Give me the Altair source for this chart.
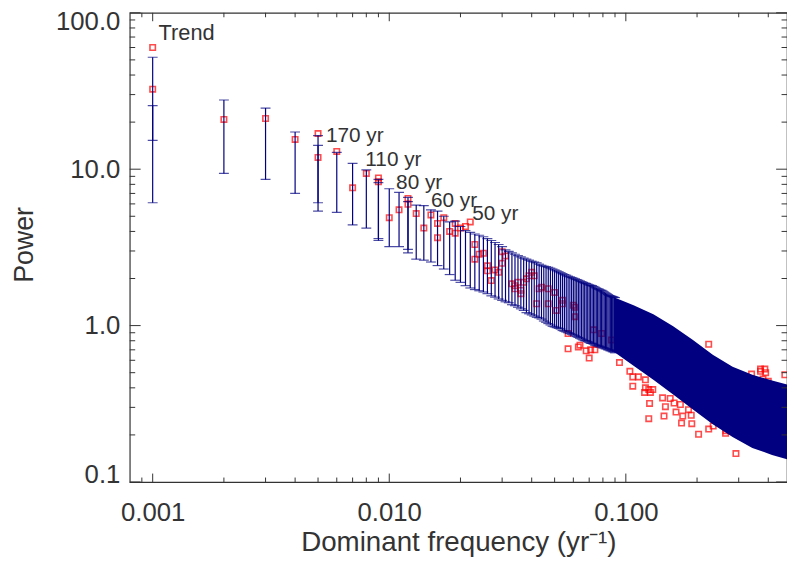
import altair as alt
import pandas as pd

# ---------------- values ----------------
# error bars, one every 0.001 yr^-1 (k = 1..90): upper and lower limits
bar_k = list(range(1, 91))
bar_hi = [52.0, 27.7, 24.6, 17.3, 16.4, 12.8, 10.9, 9.9, 8.6, 7.5,
          7.1, 6.6, 5.9, 5.85, 5.5, 5.4, 5.0, 4.6, 4.65, 4.3,
          4.05, 3.95, 3.85, 3.78, 3.7, 3.6, 3.5, 3.4, 3.3, 3.2,
          3.05, 2.98, 2.92, 2.86, 2.80, 2.75, 2.70, 2.66, 2.62, 2.58,
          2.55, 2.52, 2.47, 2.43, 2.40, 2.38, 2.36, 2.33, 2.30, 2.27,
          2.24, 2.21, 2.18, 2.15, 2.12, 2.10, 2.07, 2.05, 2.03, 2.01,
          1.99, 1.97, 1.95, 1.93, 1.91, 1.89, 1.87, 1.86, 1.84, 1.82,
          1.81, 1.80, 1.78, 1.76, 1.74, 1.72, 1.71, 1.69, 1.68, 1.66,
          1.64, 1.62, 1.60, 1.58, 1.56, 1.55, 1.54, 1.53, 1.52, 1.51]
bar_lo = [6.1, 9.4, 8.6, 7.0, 6.1, 5.3, 4.4, 4.2, 3.6, 3.2,
          3.2, 3.07, 2.66, 2.62, 2.55, 2.42, 2.3, 2.12, 1.95, 1.89,
          1.80, 1.74, 1.70, 1.67, 1.64, 1.60, 1.55, 1.52, 1.48, 1.45,
          1.42, 1.40, 1.36, 1.34, 1.31, 1.28, 1.25, 1.21, 1.19, 1.17,
          1.15, 1.13, 1.12, 1.10, 1.07, 1.05, 1.03, 1.01, 0.99, 0.98,
          0.97, 0.96, 0.95, 0.93, 0.92, 0.91, 0.90, 0.89, 0.88, 0.87,
          0.86, 0.85, 0.84, 0.83, 0.82, 0.81, 0.80, 0.80, 0.79, 0.78,
          0.77, 0.77, 0.76, 0.75, 0.75, 0.74, 0.74, 0.73, 0.73, 0.72,
          0.72, 0.71, 0.71, 0.70, 0.70, 0.69, 0.69, 0.68, 0.68, 0.67]
# second, overlapping error bars at a few frequencies
bar2_k = [1, 5, 9, 12]
bar2_hi = [25.5, 14.2, 8.2, 6.2]
bar2_lo = [15.3, 5.4, 3.5, 2.92]
# dense high-frequency error bars (merged envelope)
band_f = [0.089, 0.1078, 0.1307, 0.1585, 0.1922, 0.233, 0.2826, 0.3426, 0.415, 0.48]
band_hi = [1.52, 1.35, 1.18, 0.99, 0.81, 0.65, 0.545, 0.485, 0.445, 0.42]
band_lo = [0.68, 0.553, 0.451, 0.362, 0.291, 0.234, 0.194, 0.165, 0.149, 0.140]
# red squares
pt_f = [0.001, 0.001, 0.002, 0.003, 0.004, 0.005, 0.005, 0.006, 0.007, 0.008,
        0.009, 0.009, 0.010, 0.011, 0.012, 0.012, 0.013, 0.014, 0.015, 0.016,
        0.016, 0.017, 0.018, 0.019, 0.019, 0.020, 0.021, 0.022, 0.023, 0.023,
        0.024, 0.025, 0.026, 0.026, 0.027, 0.028, 0.029, 0.030, 0.030, 0.031,
        0.033, 0.034, 0.034, 0.035, 0.036, 0.036, 0.037, 0.038, 0.039, 0.040,
        0.041, 0.042, 0.043, 0.044, 0.047, 0.047, 0.050, 0.051, 0.054, 0.054,
        0.057, 0.057, 0.060, 0.061, 0.061, 0.063, 0.064, 0.068, 0.070, 0.071,
        0.073, 0.074, 0.079, 0.087, 0.094, 0.104, 0.107, 0.107, 0.113, 0.121,
        0.121, 0.120, 0.125, 0.127, 0.130, 0.126, 0.125, 0.143, 0.147, 0.145,
        0.154, 0.160, 0.163, 0.170, 0.174, 0.172, 0.184, 0.189, 0.190, 0.203,
        0.224, 0.234, 0.264, 0.265, 0.292, 0.224, 0.340, 0.371, 0.387, 0.371,
        0.390, 0.380, 0.400, 0.470]
pt_v = [60.0, 32.5, 20.8, 21.1, 15.5, 16.9, 11.9, 13.0, 7.6, 9.4,
        8.8, 8.3, 4.9, 5.5, 6.5, 5.96, 5.2, 4.2, 5.1, 4.5,
        3.65, 4.9, 4.0, 4.5, 3.9, 4.2, 4.3, 4.6, 3.3, 2.66,
        2.86, 2.9, 2.41, 2.24, 1.94, 2.27, 2.19, 2.5, 2.97, 2.79,
        1.85, 1.80, 1.72, 1.89, 1.68, 1.60, 1.89, 1.99, 2.08, 2.19,
        2.08, 1.38, 1.72, 1.76, 1.72, 1.38, 1.63, 1.25, 1.45, 1.38,
        0.89, 0.71, 1.35, 1.31, 1.14, 0.73, 0.75, 0.69, 0.62, 0.70,
        0.94, 0.70, 0.89, 0.81, 0.58, 0.51, 0.47, 0.41, 0.47, 0.45,
        0.40, 0.374, 0.39, 0.374, 0.39, 0.318, 0.254, 0.345, 0.303, 0.264,
        0.342, 0.32, 0.28, 0.313, 0.264, 0.238, 0.29, 0.267, 0.236, 0.202,
        0.218, 0.228, 0.205, 0.213, 0.152, 0.76, 0.49, 0.527, 0.527, 0.51,
        0.50, 0.455, 0.44, 0.485]
# annotations, anchored on the red squares they describe
ann_text = ["Trend", "170 yr", "110 yr", "80 yr", "60 yr", "50 yr"]
ann_f = [0.001, 0.005, 0.008, 0.012, 0.017, 0.022]
ann_v = [60.0, 16.9, 9.4, 6.5, 4.9, 4.6]
# axis tick values
x_major = [0.001, 0.01, 0.1]
x_minor = [0.0009, 0.002, 0.003, 0.004, 0.005, 0.006, 0.007, 0.008, 0.009,
           0.02, 0.03, 0.04, 0.05, 0.06, 0.07, 0.08, 0.09, 0.2, 0.3, 0.4]
y_major = [0.1, 1.0, 10.0, 100.0]
y_minor = [0.2, 0.3, 0.4, 0.5, 0.6, 0.7, 0.8, 0.9,
           2, 3, 4, 5, 6, 7, 8, 9, 20, 30, 40, 50, 60, 70, 80, 90]

# ---------------- tables ----------------
W, H = 664, 474
NAVY = "#000080"
TXT = "#333333"
FONT = "Liberation Sans"

bars = pd.DataFrame({"f": [k / 1000 for k in bar_k] + [k / 1000 for k in bar2_k],
                     "lo": bar_lo + bar2_lo, "hi": bar_hi + bar2_hi})
caps = pd.DataFrame({"f": list(bars["f"]) * 2, "v": list(bars["lo"]) + list(bars["hi"])})
band = pd.DataFrame({"f": band_f, "lo": band_lo, "hi": band_hi})
pts = pd.DataFrame({"f": pt_f, "v": pt_v})
ann = pd.DataFrame({"f": ann_f, "v": ann_v, "t": ann_text})

xs = alt.Scale(type="log", domain=[0.0008, 0.48], nice=False)
ys = alt.Scale(type="log", domain=[0.1, 100], nice=False)

XAX = alt.Axis(
    values=x_major, format=".3f", ticks=False, domain=False, grid=False,
    labelPadding=18, labelFlush=False, labelOverlap=False,
    title="Dominant frequency (yr⁻¹)", titleX=W / 2, titleY=61,
    titleAlign="center", titleBaseline="middle")
YAX = alt.Axis(
    values=y_major, format=".1f", ticks=False, domain=False, grid=False,
    labelPadding=10, labelFlush=False, labelOverlap=False,
    labelOffset={"condition": [{"test": "datum.value >= 100", "value": 9},
                               {"test": "datum.value <= 0.1", "value": -7}],
                 "value": 0},
    title="Power", titleX=-106, titleY=234, titleAngle=270, titleFontSize=27,
    titleAlign="center", titleBaseline="middle")


def X(field):
    return alt.X(field, scale=xs, axis=XAX)


def Y(field):
    return alt.Y(field, scale=ys, axis=YAX)


squares = alt.Chart(pts).mark_point(
    shape="square", filled=False, size=30, strokeWidth=1.6, color="#ff0000", clip=True
).encode(x=X("f:Q"), y=Y("v:Q"))

rules = alt.Chart(bars).mark_rule(color=NAVY, strokeWidth=1.2, clip=True).encode(
    x=X("f:Q"), y=Y("lo:Q"), y2="hi:Q")

capmarks = alt.Chart(caps).mark_tick(
    orient="horizontal", size=10, thickness=1.2, color=NAVY, clip=True
).encode(x=X("f:Q"), y=Y("v:Q"))

bandmark = alt.Chart(band).mark_area(color=NAVY, clip=True).encode(
    x=X("f:Q"), y=Y("lo:Q"), y2="hi:Q")


def xticks(vals, length):
    d = pd.DataFrame({"t": vals})
    bottom = alt.Chart(d).mark_rule(color=TXT, strokeWidth=1).encode(
        x=X("t:Q"), y=alt.value(H), y2=alt.value(H - length))
    top = alt.Chart(d).mark_rule(color=TXT, strokeWidth=1).encode(
        x=X("t:Q"), y=alt.value(0), y2=alt.value(length))
    return [bottom, top]


def yticks(vals, length):
    d = pd.DataFrame({"t": vals})
    left = alt.Chart(d).mark_rule(color=TXT, strokeWidth=1).encode(
        y=Y("t:Q"), x=alt.value(0), x2=alt.value(length))
    right = alt.Chart(d).mark_rule(color=TXT, strokeWidth=1).encode(
        y=Y("t:Q"), x=alt.value(W), x2=alt.value(W - length))
    return [left, right]


tick_layers = (xticks(x_major, 8.5) + xticks(x_minor, 4.5)
               + yticks(y_major, 11) + yticks(y_minor, 5.5))

offsets = [(6, -15, 22), (8, 3, 21), (-1, -13, 21), (-12, -16, 21), (-13, -17, 21), (2, -8, 21)]
text_layers = []
for i, (dx, dy, fs) in enumerate(offsets):
    text_layers.append(
        alt.Chart(ann.iloc[[i]]).mark_text(
            align="left", baseline="middle", dx=dx, dy=dy, fontSize=fs,
            font=FONT, color=TXT
        ).encode(x=X("f:Q"), y=Y("v:Q"), text="t:N")
    )

chart = alt.layer(
    squares, rules, capmarks, bandmark, *tick_layers, *text_layers
).properties(
    width=W, height=H,
    padding={"left": 123, "top": 2, "right": 0, "bottom": 80},
    autosize=alt.AutoSizeParams(type="none"),
).configure_view(
    stroke=TXT, strokeWidth=1.2
).configure_axis(
    labelFont=FONT, labelFontSize=26, labelColor=TXT,
    titleFont=FONT, titleFontSize=28, titleColor=TXT, titleFontWeight="normal",
)

chart.save("out.html", embed_options={"renderer": "svg", "actions": False})
